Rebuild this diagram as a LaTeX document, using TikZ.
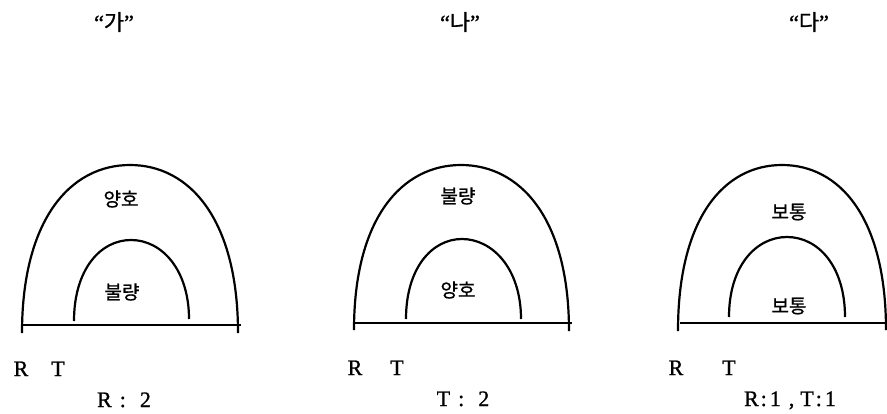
\documentclass[tikz,border=0pt]{standalone}
\usepackage{fontspec}
\usepackage{tikz}
\usetikzlibrary{positioning}
\setmainfont{Liberation Serif}[FakeBold=1]
\newfontfamily\kr{Noto Sans CJK KR}[FakeBold=0.8]

\begin{document}
\begin{tikzpicture}[
  x=1pt,y=-1pt,
  every node/.style={inner sep=0pt},
  title/.style={font=\fontsize{22}{22}\selectfont},
  grade/.style={font=\kr\fontsize{19}{19}\selectfont},
  latin/.style={font=\fontsize{22}{22}\selectfont,anchor=base},
  arch/.style={line width=2.2pt},
  floor/.style={line width=1.8pt}
]
\useasboundingbox (0,0) rectangle (887,413);

% panel ga
\node[title] (ga) at (114,22) {``{\kr 가}''};
\draw[arch] (22,333) .. controls (22,220) and (70,165) .. (130,165) .. controls (190,165) and (238,220) .. (238,333);
\draw[arch] (74,321) .. controls (74,270) and (100,240) .. (131,240) .. controls (162,240) and (189,270) .. (189,319);
\draw[floor] (22,325) -- (241,325);
\node[grade] (gaout) at (121,199) {양호};
\node[grade] (gain) at (122,292) {불량};
\node[latin] (gaR) at (21,376) {R};
\node[latin] (gaT) at (58,376) {T};
\node[latin] (garatio) at (124,407) {R\hspace{8pt}:\hspace{14pt}2};

% panel na
\node[title] (na) at (460,22) {``{\kr 나}''};
\draw[arch] (354,330) .. controls (354,218) and (402,165) .. (461,165) .. controls (520,165) and (569,218) .. (569,331);
\draw[arch] (406,319) .. controls (406,268) and (432,239) .. (462,239) .. controls (492,239) and (521,268) .. (521,319);
\draw[floor] (354,323) -- (572,323);
\node[grade] (naout) at (458,196) {불량};
\node[grade] (nain) at (458,290) {양호};
\node[latin] (naR) at (355,375) {R};
\node[latin] (naT) at (397,375) {T};
\node[latin] (naratio) at (463,406) {T\hspace{8pt}:\hspace{14pt}2};

% panel da
\node[title] (da) at (809,22) {``{\kr 다}''};
\draw[arch] (678,331) .. controls (678,218) and (724,165) .. (782,165) .. controls (840,165) and (886,218) .. (886,330);
\draw[arch] (729,317) .. controls (729,266) and (756,237) .. (787,237) .. controls (818,237) and (845,266) .. (845,317);
\draw[floor] (680,323) -- (887,323);
\node[grade] (daout) at (789,212) {보통};
\node[grade] (dain) at (789,306) {보통};
\node[latin] (daR) at (676,375) {R};
\node[latin] (daT) at (729,375) {T};
\node[latin] (daratio) at (790,406) {R\hspace{2pt}:\hspace{3pt}1\hspace{8pt},\hspace{6pt}T\hspace{2pt}:\hspace{3pt}1};
\end{tikzpicture}
\end{document}
